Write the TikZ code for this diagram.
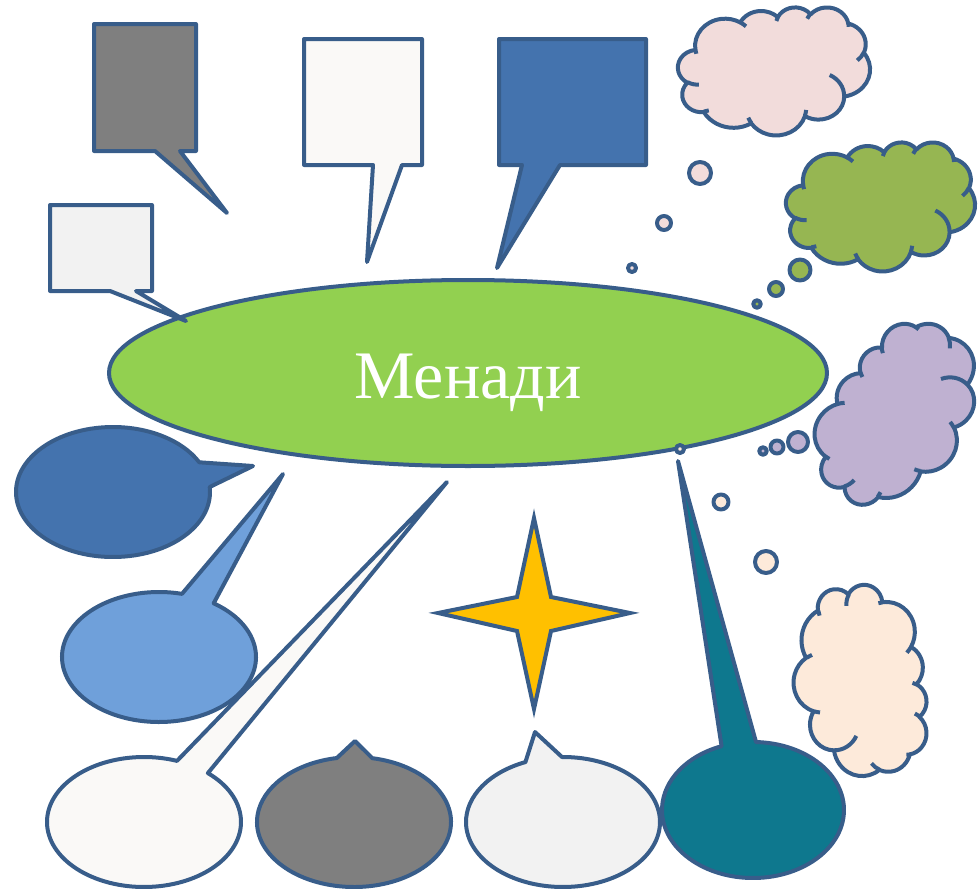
\documentclass[tikz,border=0pt]{standalone}
\usepackage{fontspec}
\newfontfamily\titlefont{Liberation Serif}
\usetikzlibrary{shapes.geometric}
\definecolor{lc}{HTML}{385D8A}
\definecolor{greenell}{HTML}{92D050}
\definecolor{grayf}{HTML}{7F7F7F}
\definecolor{whitef}{HTML}{FAF9F7}
\definecolor{lgrayf}{HTML}{F2F2F2}
\definecolor{bluef}{HTML}{4473AE}
\definecolor{lbluef}{HTML}{6FA0DA}
\definecolor{tealf}{HTML}{0E788E}
\definecolor{pinkf}{HTML}{F2DCDB}
\definecolor{olivef}{HTML}{96B652}
\definecolor{lavf}{HTML}{BFB1D1}
\definecolor{peachf}{HTML}{FDEADA}
\definecolor{starf}{HTML}{FFC000}
\tikzset{
  shp/.style={draw=lc, line width=4pt, line join=round},
  bub/.style={shp, circle, inner sep=0pt},
}
% arc of an ellipse given by "visual" start angle and sweep
\newcommand\varc[4]{arc[x radius=#1, y radius=#2, start angle={atan2((#1)*sin(#3),(#2)*cos(#3))}, delta angle={mod(atan2((#1)*sin((#3)+(#4)),(#2)*cos((#3)+(#4)))-atan2((#1)*sin(#3),(#2)*cos(#3))+720,360)}]}
\newcommand\cloudpath{(-0.40972,-0.16736)
 \varc{0.15632}{0.21273}{-190.4875}{123.7805}
 \varc{0.12345}{0.16822}{-144.1024}{89.9452}
 \varc{0.10104}{0.13762}{-145.8079}{99.7230}
 \varc{0.11243}{0.15266}{-130.9861}{117.2417}
 \varc{0.12345}{0.16836}{-78.7089}{109.0269}
 \varc{0.15683}{0.21343}{-46.2673}{130.2690}
 \varc{0.13391}{0.18211}{0.6250}{114.0333}
 \varc{0.15630}{0.21331}{22.4516}{115.1726}
 \varc{0.17870}{0.24405}{66.2426}{75.7110}
 \varc{0.10093}{0.13699}{-274.9421}{146.7356}
 \varc{0.10058}{0.13762}{-246.8285}{152.5189}
 -- cycle}
\begin{document}
\begin{tikzpicture}[x=1pt,y=-1pt]
\useasboundingbox (0,0) rectangle (978,889);

% main ellipse
\node[shp, ellipse, fill=greenell, minimum width=718pt, minimum height=186pt, inner sep=0pt] (main) at (468,373) {};

% rectangular callouts
\draw[shp, fill=grayf] (94,24) -- (196,24) -- (196,151) -- (180,151) -- (227,213) -- (155,151) -- (94,151) -- cycle;
\draw[shp, fill=whitef] (304,39) -- (422,39) -- (422,165) -- (402,165) -- (367,262) -- (373,165) -- (304,165) -- cycle;
\draw[shp, fill=lgrayf] (50,205) -- (152,205) -- (152,291) -- (136,291) -- (186,321) -- (110,291) -- (50,291) -- cycle;
\draw[shp, fill=bluef] (499,39) -- (646,39) -- (646,165) -- (560,165) -- (497,268) -- (522,165) -- (499,165) -- cycle;

% clouds
\foreach \cx/\cy/\rot/\cw/\ch/\cf in {774/71/0/192/128/pinkf, 880.5/206.5/0/189/129/olivef, 898/416/45/195/135/lavf, 860.5/680.5/-90/191/133/peachf}{
\begin{scope}[shift={(\cx,\cy)}, rotate=\rot, x=\cw pt, y=-\ch pt]
  \draw[shp, fill=\cf] \cloudpath;
  \draw[draw=lc, line width=4pt] (-0.39137,0.10595) \varc{0.10058}{0.13762}{86.742}{26.43}
 (-0.33963,0.30785) \varc{0.10093}{0.13699}{73.61}{11.447}
 (-0.11856,0.40486) \varc{0.15630}{0.21331}{137.62}{14.081}
 (0.16729,0.30442) \varc{0.15630}{0.21331}{6.4533}{15.998}
 (0.29002,0.03134) \varc{0.13391}{0.18211}{-70.292}{70.917}
 (0.46755,-0.14458) \varc{0.12345}{0.16836}{30.318}{27.752}
 (0.38713,-0.37440) \varc{0.11243}{0.15266}{-13.744}{14.859}
 (0.17310,-0.40852) \varc{0.11243}{0.15266}{-149.18}{18.195}
 (0.01252,-0.39074) \varc{0.10104}{0.13762}{-163.49}{17.686}
 (-0.17593,-0.37981) \varc{0.15632}{0.21273}{-66.707}{12.319}
 (-0.40447,-0.13451) \varc{0.15632}{0.21273}{157.65}{11.858};
\end{scope}
}

% thought bubbles
\node[bub, fill=pinkf, minimum size=22pt] (pb1) at (700,173) {};
\node[bub, fill=pinkf, minimum size=14pt] (pb2) at (664,223) {};
\node[bub, fill=pinkf, minimum size=8pt] (pb3) at (632,268) {};
\node[bub, fill=olivef, minimum size=21pt] (gb1) at (800,270) {};
\node[bub, fill=olivef, minimum size=14pt] (gb2) at (776,289) {};
\node[bub, fill=olivef, minimum size=7.5pt] (gb3) at (757,304) {};
\node[bub, fill=lavf, minimum size=20pt] (lb1) at (798,442) {};
\node[bub, fill=lavf, minimum size=13pt] (lb2) at (777,447) {};
\node[bub, fill=lavf, minimum size=7.5pt] (lb3) at (763,451) {};
\node[bub, fill=peachf, minimum size=22pt] (qb1) at (766,562) {};
\node[bub, fill=peachf, minimum size=15pt] (qb2) at (721,502) {};
\node[bub, fill=peachf, minimum size=8pt] (qb3) at (680,449) {};

% oval callouts
\draw[shp, fill=bluef] (113,492) ++(-4.4:97 and 65) arc[start angle=-4.4, end angle=332.8, x radius=97, y radius=65] -- (253,466) -- cycle;
\draw[shp, fill=lbluef] (159,657) ++(-55.7:97 and 65) arc[start angle=-55.7, end angle=283.7, x radius=97, y radius=65] -- (283,474) -- cycle;
\draw[shp, fill=whitef] (144,822) ++(-48.8:97 and 65) arc[start angle=-48.8, end angle=289.9, x radius=97, y radius=65] -- (447,482) -- cycle;
\draw[shp, fill=grayf] (354,822) ++(-79.1:97 and 65) arc[start angle=-79.1, end angle=259.8, x radius=97, y radius=65] -- (355,741) -- cycle;
\draw[shp, fill=lgrayf] (563,822) ++(-90.6:97 and 65) arc[start angle=-90.6, end angle=247.2, x radius=97, y radius=65] -- (535,732) -- cycle;
\draw[shp, fill=tealf] (753,810) ++(-88.1:91 and 68) arc[start angle=-88.1, end angle=249.8, x radius=91, y radius=68] -- (678,461) -- cycle;

% star
\draw[shp, line join=miter, fill=starf] (534,518) -- (551,597) -- (630,613) -- (551,631) -- (534,709) -- (517,631) -- (438,613) -- (517,597) -- cycle;

% title
\node[anchor=base, text=white, font=\titlefont\fontsize{68}{80}\selectfont] (title) at (468,398) {Менади};
\end{tikzpicture}
\end{document}
